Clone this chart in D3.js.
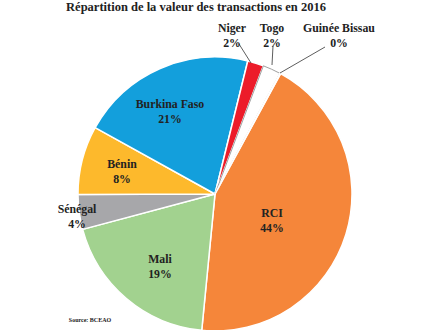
<!DOCTYPE html>
<html><head><meta charset="utf-8">
<script src="https://cdn.jsdelivr.net/npm/d3@7"></script>
<style>
html,body{margin:0;padding:0;background:#fff;}
svg{display:block;font-family:"Liberation Serif","DejaVu Serif",serif;}
</style></head>
<body>
<svg id="chart" width="425" height="330"></svg>
<script>
const categories = ["RCI","Mali","Sénégal","Bénin","Burkina Faso","Niger","Togo","Guinée Bissau"];
const values = [43.6, 19.3, 4.1, 8.1, 20.8, 1.9, 2.1, 0.1];
const colors = ["#F5863A","#A2D28F","#A7A7AA","#FDB92C","#139FDC","#EC1C2A","#FFFFFF","#9A9A9A"];
const title = "Répartition de la valeur des transactions en 2016";
const source = "Source: BCEAO";

// layout (label anchors, leader lines)
const labelPos = {
  "RCI":[272,217], "Mali":[160,263], "Sénégal":[77,213], "Bénin":[122,168],
  "Burkina Faso":[170,108], "Niger":[232,32], "Togo":[272,32], "Guinée Bissau":[339,32]
};
const leaders = {
  "Niger":[[239,44],[251,63]], "Togo":[[273,46],[272,65]], "Guinée Bissau":[[325,47],[280,73]]
};

const svg = d3.select("#chart");
const cx = 215, cy = 194, R = 137;
const start = 28.6 * Math.PI / 180;
const pie = d3.pie().sort(null).value(d => d.v).startAngle(start).endAngle(start + 2 * Math.PI);
const data = categories.map((c, i) => ({c, v: values[i], col: colors[i]}));
const arcs = pie(data);
const arc = d3.arc().innerRadius(0).outerRadius(R);

const g = svg.append("g").attr("transform", `translate(${cx},${cy})`);
g.selectAll("path").data(arcs).join("path")
  .attr("d", arc)
  .attr("fill", d => d.data.col)
  .attr("stroke", d => d.data.c === "Togo" ? "#A0A0A0" : "#FFFFFF")
  .attr("stroke-width", d => d.data.c === "Togo" ? 1 : 1.5)
  .attr("stroke-linejoin", "round");

// leader lines
Object.entries(leaders).forEach(([k, pts]) => {
  svg.append("line")
    .attr("x1", pts[0][0]).attr("y1", pts[0][1])
    .attr("x2", pts[1][0]).attr("y2", pts[1][1])
    .attr("stroke", "#333").attr("stroke-width", 0.8);
});

// labels
arcs.forEach(d => {
  const p = labelPos[d.data.c];
  const t = svg.append("text")
    .attr("x", p[0]).attr("y", p[1])
    .attr("text-anchor", "middle")
    .attr("font-size", 11.8).attr("font-weight", "bold").attr("fill", "#222");
  t.append("tspan").attr("x", p[0]).text(d.data.c);
  t.append("tspan").attr("x", p[0]).attr("dy", 14.5).text(Math.round(d.data.v) + "%");
});

svg.append("text").attr("x", 196).attr("y", 11).attr("text-anchor", "middle")
  .attr("font-size", 12.5).attr("font-weight", "bold").attr("fill", "#222").text(title);

svg.append("text").attr("x", 90).attr("y", 322).attr("text-anchor", "middle")
  .attr("font-size", 6).attr("font-weight", "bold").attr("fill", "#222").text(source);
</script>
</body></html>
